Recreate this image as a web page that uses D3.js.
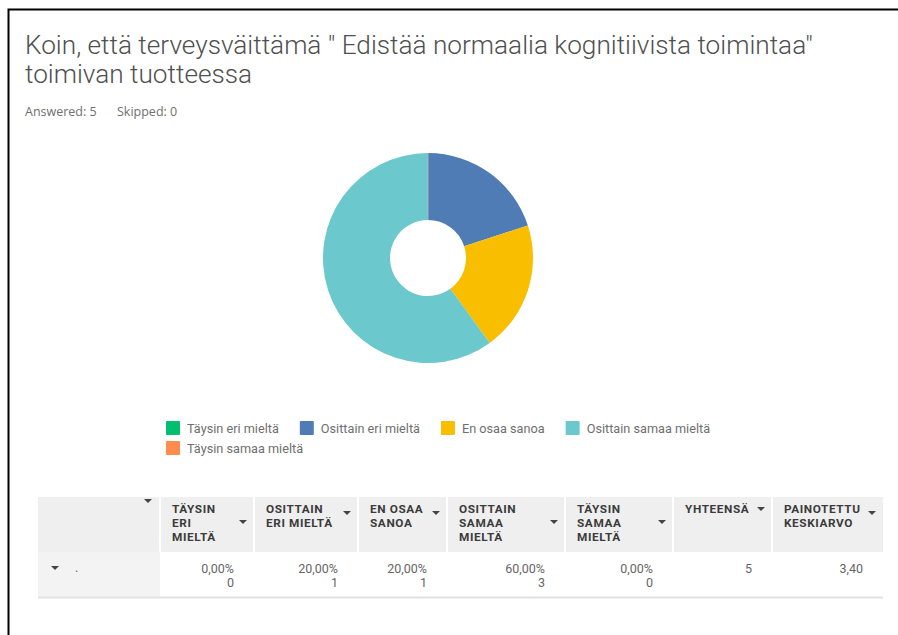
<!DOCTYPE html>
<html>
<head>
<meta charset="utf-8">
<script src="https://cdn.jsdelivr.net/npm/d3@7"></script>
<style>
  body { margin: 0; background: #fff; }
  svg { display: block; font-family: Roboto, "Open Sans", sans-serif; }
</style>
</head>
<body>
<script>
// data
var categories = ["Täysin eri mieltä", "Osittain eri mieltä", "En osaa sanoa", "Osittain samaa mieltä", "Täysin samaa mieltä"];
var percents = [0, 20, 20, 60, 0];
var counts = [0, 1, 1, 3, 0];
var colors = ["#00bf6f", "#507cb6", "#f9be00", "#6bc8cd", "#ff8b4f"];
var headers = [["TÄYSIN", "ERI", "MIELTÄ"], ["OSITTAIN", "ERI MIELTÄ"], ["EN OSAA", "SANOA"],
               ["OSITTAIN", "SAMAA", "MIELTÄ"], ["TÄYSIN", "SAMAA", "MIELTÄ"], ["YHTEENSÄ"], ["PAINOTETTU", "KESKIARVO"]];
var total = 5;
var weightedAvg = "3,40";
var answered = 5, skipped = 0;

var W = 898, H = 635;
var svg = d3.select("body").append("svg")
    .attr("width", W)
    .attr("height", H);

// frame
svg.append("path")
    .attr("d", "M8.5,635 V9.5 H898")
    .attr("fill", "none")
    .attr("stroke", "#000")
    .attr("stroke-width", 2);

// title
var titleLines = ["Koin, että terveysväittämä \" Edistää normaalia kognitiivista toimintaa\"", "toimivan tuotteessa"];
var title = svg.append("g").attr("fill", "#4f4f4f")
    .style("font-size", "25px").style("font-weight", 300);
title.selectAll("text")
    .data(titleLines)
    .enter().append("text")
    .attr("x", 25)
    .attr("y", (d, i) => 54 + i * 29)
    .text(d => d);
// fit first line to the width seen in the picture
var w0 = title.select("text").node().getComputedTextLength();
title.style("font-size", (25 * 788 / w0) + "px");

var meta = svg.append("g").attr("fill", "#707070")
    .style("font-family", "'Open Sans', sans-serif").style("font-size", "12.5px");
meta.append("text").attr("x", 25).attr("y", 116).text("Answered: " + answered);
meta.append("text").attr("x", 117).attr("y", 116).text("Skipped: " + skipped);

// donut
var cx = 428, cy = 258;
var pie = d3.pie().sort(null).value(d => d);
var arc = d3.arc().innerRadius(38).outerRadius(105);
svg.append("g")
    .attr("transform", "translate(" + cx + "," + cy + ")")
    .selectAll("path")
    .data(pie(percents))
    .enter().append("path")
    .attr("d", arc)
    .attr("fill", (d, i) => colors[i]);
svg.append("line")
    .attr("x1", cx).attr("x2", cx)
    .attr("y1", cy - 105).attr("y2", cy - 38)
    .attr("stroke", "#b9b9b9").attr("stroke-width", 0.8);

// legend
var legend = svg.append("g").style("font-size", "12.7px");
var lx = 166, ly = 421, maxX = 730;
categories.forEach(function (c, i) {
  var item = legend.append("g");
  item.append("rect").attr("width", 14).attr("height", 14).attr("rx", 1).attr("fill", colors[i]);
  var t = item.append("text").attr("x", 21).attr("y", 11.5).attr("fill", "#6f6f6f").text(c);
  var tw = t.node().getComputedTextLength();
  if (lx + 21 + tw > maxX) { lx = 166; ly += 20; }
  item.attr("transform", "translate(" + lx + "," + ly + ")");
  lx += 21 + tw + 21;
});

// table
var colEdges = [38, 160, 254, 358, 447, 565, 673, 772, 883];
var headTop = 497, headBot = 552, rowBot = 597;
var table = svg.append("g");
var caret = "M-4,0 H4 L0,4 Z";

table.append("rect")
    .attr("x", colEdges[0]).attr("y", headTop)
    .attr("width", colEdges[8] - colEdges[0]).attr("height", headBot - headTop)
    .attr("fill", "#efefef");
table.append("rect")
    .attr("x", colEdges[0]).attr("y", headBot)
    .attr("width", colEdges[1] - colEdges[0]).attr("height", rowBot - headBot)
    .attr("fill", "#f3f3f3");
table.selectAll(".sep")
    .data(colEdges.slice(1, 8))
    .enter().append("line")
    .attr("x1", d => d).attr("x2", d => d)
    .attr("y1", headTop).attr("y2", headBot)
    .attr("stroke", "#fff").attr("stroke-width", 2);
table.append("line")
    .attr("x1", colEdges[0]).attr("x2", colEdges[8])
    .attr("y1", rowBot + 0.5).attr("y2", rowBot + 0.5)
    .attr("stroke", "#e2e2e2").attr("stroke-width", 2);

// first column caret
table.append("path").attr("d", caret).attr("fill", "#444")
    .attr("transform", "translate(148,499)");

headers.forEach(function (lines, i) {
  var x0 = colEdges[i + 1], x1 = colEdges[i + 2];
  var g = table.append("g");
  g.selectAll("text")
      .data(lines)
      .enter().append("text")
      .attr("x", x0 + 12)
      .attr("y", (d, j) => 513 + j * 14)
      .attr("fill", "#3b3b3b")
      .style("font-size", "11.8px")
      .style("font-weight", "bold")
      .style("letter-spacing", "0.6px")
      .text(d => d);
  var cyc = lines.length === 3 ? 520 : lines.length === 2 ? 511 : 507;
  g.append("path").attr("d", caret).attr("fill", "#444")
      .attr("transform", "translate(" + (x1 - 11) + "," + cyc + ")");
});

// data row
var num = table.append("g").attr("fill", "#666").style("font-size", "12.5px");
table.append("path").attr("d", caret).attr("fill", "#444")
    .attr("transform", "translate(55,566)");
num.append("text").attr("x", 75).attr("y", 572).text(".");

percents.forEach(function (p, i) {
  var xr = colEdges[i + 2] - 20;
  num.append("text").attr("x", xr).attr("y", 573)
      .attr("text-anchor", "end")
      .text(d3.format(".2f")(p).replace(".", ",") + "%");
  num.append("text").attr("x", xr).attr("y", 587)
      .attr("text-anchor", "end")
      .text(counts[i]);
});
num.append("text").attr("x", colEdges[7] - 20).attr("y", 573)
    .attr("text-anchor", "end").text(total);
num.append("text").attr("x", colEdges[8] - 20).attr("y", 573)
    .attr("text-anchor", "end").text(weightedAvg);
</script>
</body>
</html>
